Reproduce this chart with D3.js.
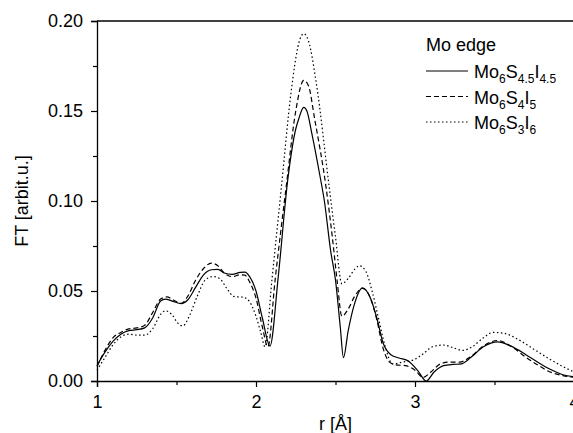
<!DOCTYPE html>
<html>
<head>
<meta charset="utf-8">
<script src="https://cdn.jsdelivr.net/npm/d3@7"></script>
<style>
  body { margin: 0; background: #fff; }
  svg { display: block; }
  text { font-family: "Liberation Sans", Arial, sans-serif; fill: #000; }
</style>
</head>
<body>
<svg id="chart" width="573" height="433"></svg>
<script>
// ---- data ----
const xTicks = [1, 2, 3, 4];
const yTicks = [0.00, 0.05, 0.10, 0.15, 0.20];
const xTitle = "r [Å]";
const yTitle = "FT [arbit.u.]";
const legendTitle = "Mo edge";

// Mo6S4.5I4.5 (solid)
const solidR = [1.00,1.05,1.10,1.15,1.20,1.25,1.30,1.35,1.40,1.43,1.47,1.53,1.57,1.62,1.67,1.72,1.76,1.80,1.85,1.90,1.93,1.96,2.00,2.04,2.088,2.14,2.20,2.25,2.27,2.30,2.32,2.35,2.40,2.43,2.47,2.50,2.53,2.55,2.58,2.62,2.67,2.72,2.76,2.80,2.85,2.90,2.96,3.02,3.07,3.12,3.18,3.24,3.29,3.35,3.43,3.52,3.60,3.70,3.77,3.85,3.93,4.00];
const solidV = [0.0085,0.016,0.022,0.026,0.028,0.0285,0.0295,0.035,0.0445,0.0455,0.0445,0.043,0.045,0.052,0.059,0.0618,0.062,0.060,0.0592,0.0603,0.0605,0.058,0.050,0.035,0.0194,0.058,0.112,0.140,0.146,0.152,0.150,0.138,0.115,0.100,0.072,0.056,0.030,0.013,0.028,0.043,0.0517,0.046,0.035,0.021,0.0145,0.0128,0.011,0.0055,0.0,0.005,0.0085,0.0092,0.0095,0.013,0.019,0.0217,0.0195,0.0145,0.0106,0.0065,0.0035,0.0023];

// Mo6S4I5 (dashed)
const dashR = [1.00,1.05,1.10,1.15,1.20,1.25,1.30,1.35,1.40,1.44,1.48,1.53,1.57,1.62,1.67,1.72,1.76,1.80,1.85,1.90,1.93,1.96,2.00,2.04,2.075,2.12,2.19,2.25,2.30,2.33,2.37,2.44,2.48,2.51,2.54,2.58,2.62,2.67,2.72,2.76,2.80,2.84,2.88,2.94,3.00,3.05,3.10,3.16,3.22,3.28,3.35,3.43,3.52,3.60,3.70,3.77,3.85,3.93,4.00];
const dashV = [0.008,0.017,0.024,0.027,0.029,0.0295,0.031,0.038,0.0455,0.0467,0.045,0.0432,0.047,0.056,0.0625,0.0655,0.064,0.060,0.058,0.059,0.0588,0.055,0.046,0.030,0.019,0.056,0.108,0.150,0.167,0.164,0.145,0.108,0.080,0.056,0.036,0.040,0.047,0.0515,0.046,0.034,0.018,0.0105,0.009,0.0085,0.006,0.002,0.005,0.0095,0.0105,0.0105,0.0135,0.0195,0.0225,0.0195,0.013,0.009,0.005,0.003,0.002];

// Mo6S3I6 (dotted)
const dotR = [1.00,1.05,1.10,1.15,1.20,1.25,1.30,1.35,1.40,1.43,1.47,1.51,1.54,1.58,1.63,1.68,1.73,1.77,1.82,1.86,1.92,1.96,2.00,2.03,2.057,2.10,2.16,2.22,2.27,2.30,2.33,2.38,2.46,2.50,2.54,2.58,2.62,2.65,2.69,2.73,2.77,2.81,2.86,2.92,2.99,3.05,3.11,3.18,3.24,3.30,3.36,3.43,3.49,3.56,3.65,3.75,3.85,3.93,4.00];
const dotV = [0.006,0.013,0.020,0.0245,0.026,0.0255,0.0255,0.029,0.037,0.039,0.037,0.032,0.0306,0.036,0.047,0.056,0.058,0.057,0.051,0.047,0.0465,0.044,0.036,0.027,0.019,0.056,0.108,0.160,0.188,0.193,0.189,0.165,0.108,0.080,0.054,0.057,0.062,0.064,0.061,0.050,0.035,0.020,0.0095,0.0105,0.0117,0.015,0.019,0.020,0.0185,0.017,0.019,0.024,0.027,0.0265,0.023,0.0175,0.012,0.008,0.005];

const seriesNames = [
  [["Mo",""],["6","s"],["S",""],["4.5","s"],["I",""],["4.5","s"]],
  [["Mo",""],["6","s"],["S",""],["4","s"],["I",""],["5","s"]],
  [["Mo",""],["6","s"],["S",""],["3","s"],["I",""],["6","s"]]
];

// ---- layout ----
const mLeft = 97, mRight = 574, mTop = 21, mBottom = 381;
const FS = 18;
const svg = d3.select("#chart");
const x = d3.scaleLinear().domain([1, 4]).range([mLeft, mRight]);
const y = d3.scaleLinear().domain([0, 0.20]).range([mBottom, mTop]);

// frame (top line)
svg.append("line").attr("x1", mLeft).attr("x2", mRight).attr("y1", mTop).attr("y2", mTop)
  .attr("stroke", "#000").attr("stroke-width", 1.3);

// axes
const xAxis = d3.axisBottom(x).tickValues(xTicks).tickFormat(d3.format("d")).tickSizeOuter(0).tickSize(6).tickPadding(8);
svg.append("g").attr("transform", `translate(0,${mBottom})`).call(xAxis);
const xMinor = d3.axisBottom(x).tickValues([1.5, 2.5, 3.5]).tickFormat("").tickSizeOuter(0).tickSize(4);
svg.append("g").attr("class", "minor").attr("transform", `translate(0,${mBottom})`).call(xMinor);

const yAxis = d3.axisLeft(y).tickValues(yTicks).tickFormat(d3.format(".2f")).tickSizeOuter(0).tickSize(6).tickPadding(8);
svg.append("g").attr("transform", `translate(${mLeft},0)`).call(yAxis);
const yMinor = d3.axisLeft(y).tickValues([0.025, 0.075, 0.125, 0.175]).tickFormat("").tickSizeOuter(0).tickSize(4);
svg.append("g").attr("class", "minor").attr("transform", `translate(${mLeft},0)`).call(yMinor);
svg.selectAll(".minor .domain").remove();

svg.selectAll(".domain").attr("stroke-width", 1.3);
svg.selectAll(".tick line").attr("stroke-width", 1.2);
svg.selectAll(".tick text").attr("font-size", FS).attr("font-family", "Liberation Sans, Arial, sans-serif");

// titles
svg.append("text").attr("x", (mLeft + mRight) / 2).attr("y", 430).attr("text-anchor", "middle")
  .attr("font-size", FS).text(xTitle);
svg.append("text").attr("transform", `translate(28,${(mTop + mBottom) / 2}) rotate(-90)`)
  .attr("text-anchor", "middle").attr("font-size", FS).text(yTitle);

// lines
const styles = [null, "5,3", "1.5,2.5"];
const series = [
  solidR.map((r, i) => [r, solidV[i]]),
  dashR.map((r, i) => [r, dashV[i]]),
  dotR.map((r, i) => [r, dotV[i]])
];
const line = d3.line().x(d => x(d[0])).y(d => y(d[1])).curve(d3.curveMonotoneX);
const plot = svg.append("g");
series.forEach((s, i) => {
  plot.append("path").datum(s).attr("d", line).attr("fill", "none")
    .attr("stroke", "#000").attr("stroke-width", 1.2)
    .attr("stroke-dasharray", styles[i]);
});

// legend
const lg = svg.append("g");
lg.append("text").attr("x", 426).attr("y", 51).attr("font-size", FS).text(legendTitle);
const rowY = [71, 96.5, 122];
seriesNames.forEach((parts, i) => {
  lg.append("line").attr("x1", 426).attr("x2", 468).attr("y1", rowY[i]).attr("y2", rowY[i])
    .attr("stroke", "#000").attr("stroke-width", 1.2).attr("stroke-dasharray", styles[i]);
  const t = lg.append("text").attr("x", 474).attr("y", rowY[i] + 7).attr("font-size", FS);
  let prevSub = false;
  parts.forEach(([txt, kind]) => {
    const isSub = kind === "s";
    const dy = isSub && !prevSub ? 5 : (!isSub && prevSub ? -5 : 0);
    t.append("tspan").attr("dy", dy).attr("font-size", isSub ? 12 : FS).text(txt);
    prevSub = isSub;
  });
});
</script>
</body>
</html>
